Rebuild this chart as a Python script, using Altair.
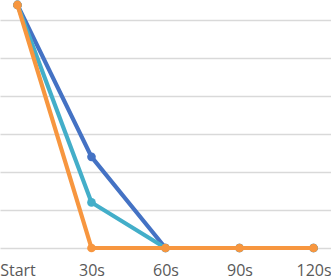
import altair as alt
import pandas as pd

categories = ["Start", "30s", "60s", "90s", "120s"]
series_names = ["Blue", "Teal", "Orange"]
blue_vals = [6.4, 2.4, 0, 0, 0]
teal_vals = [6.4, 1.2, 0, 0, 0]
orange_vals = [6.4, 0, 0, 0, 0]
colors = ["#4472C4", "#43AEC9", "#F7963F"]

rows = []
for order, (name, vals) in enumerate(zip(series_names, [blue_vals, teal_vals, orange_vals])):
    for c, v in zip(categories, vals):
        rows.append({"cat": c, "value": v, "series": name, "order": order})
df = pd.DataFrame(rows)

layers = []
for name, col in zip(series_names, colors):
    sub = df[df["series"] == name]
    base = alt.Chart(sub).encode(
        x=alt.X("cat:O", sort=categories,
                scale=alt.Scale(type="point", padding=0.236),
                axis=alt.Axis(title=None, labelAngle=0, domain=False, ticks=False,
                              grid=False, labelFont="Open Sans", labelFontSize=16,
                              labelColor="#595959", labelPadding=14)),
        y=alt.Y("value:Q", scale=alt.Scale(domain=[0, 6.53], nice=False, zero=True),
                axis=alt.Axis(title=None, labels=False, ticks=False, domain=False,
                              values=[0, 1, 2, 3, 4, 5, 6], gridColor="#D9D9D9",
                              gridWidth=1.5)),
    )
    layers.append(base.mark_line(color=col, strokeWidth=4.2))
    layers.append(base.mark_point(color=col, filled=True, size=75, opacity=1))

chart = alt.layer(*layers).properties(
    width=331, height=248,
    autosize=alt.AutoSizeParams(type="none"),
    padding={"left": 0, "top": 0, "right": 0, "bottom": 31},
).configure_view(stroke=None)

chart.save("out.html", embed_options={"renderer": "svg", "actions": False})
